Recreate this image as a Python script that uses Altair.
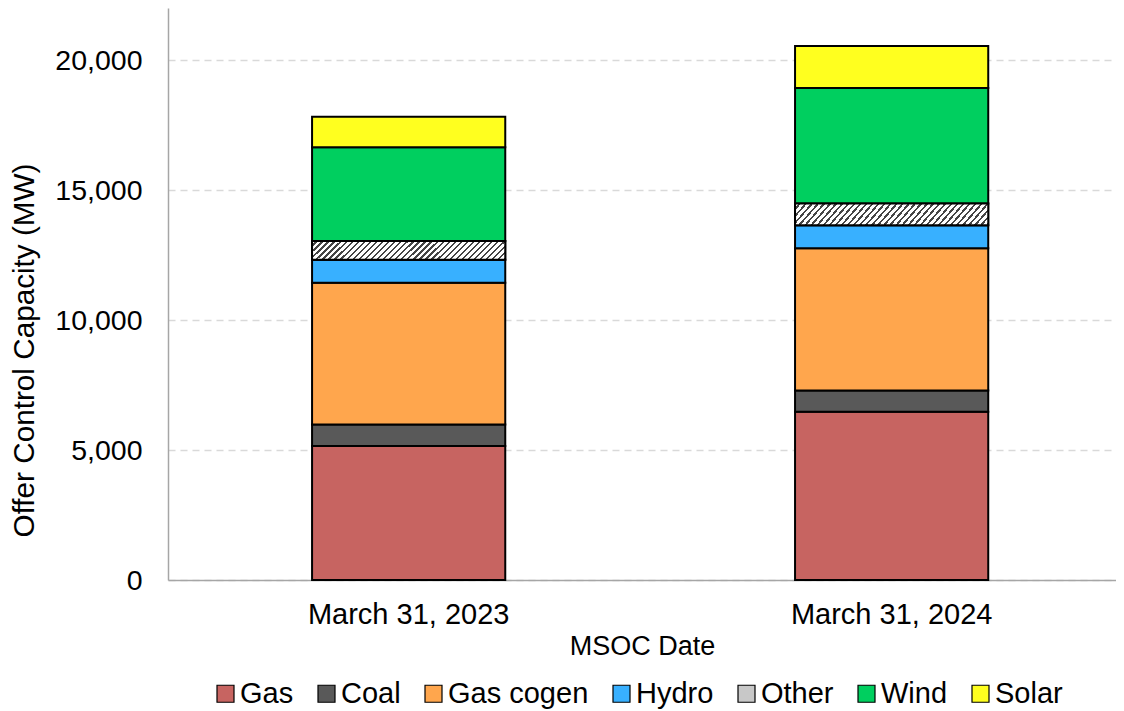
import altair as alt
import pandas as pd

dates = ["March 31, 2023", "March 31, 2024"]
categories = ["Gas", "Coal", "Gas cogen", "Hydro", "Other", "Wind", "Solar"]
values_2023 = [5150, 835, 5450, 885, 720, 3605, 1175]
values_2024 = [6470, 820, 5470, 885, 835, 4445, 1615]
colors = ["#C76461", "#595959", "#FFA64D", "#38B0FF", "#C8C8C8", "#00CF5F", "#FFFF1F"]

rows = []
for d, vals in zip(dates, [values_2023, values_2024]):
    for i, (c, v) in enumerate(zip(categories, vals)):
        rows.append({"date": d, "cat": c, "value": v, "order": i})
df = pd.DataFrame(rows)

# diagonal hatch as a hard-stop linear gradient (styling only)
W, H = 193.0, 19.0
k = (W + H) / (W * W + H * H)
N = 35
stops = []
for i in range(N):
    stops.append({"offset": i / N, "color": "#ffffff"})
    stops.append({"offset": (i + 0.62) / N, "color": "#ffffff"})
    stops.append({"offset": (i + 0.62) / N, "color": "#454545"})
    stops.append({"offset": (i + 1) / N, "color": "#454545"})
hatch = {"gradient": "linear", "x1": 0, "y1": 0, "x2": k * W, "y2": k * H, "stops": stops}

FONT = "Liberation Sans"

base = alt.Chart(df).transform_stack(
    stack="value", groupby=["date"], as_=["y0", "y1"], sort=[alt.SortField("order", "ascending")]
)

xenc = alt.X(
    "date:N",
    sort=dates,
    title="MSOC Date",
    scale=alt.Scale(paddingInner=0.6, paddingOuter=0.2814, align=0.53),
    axis=alt.Axis(labelAngle=0, ticks=False, grid=False, labelPadding=20, titlePadding=4,
                  labelLimit=0, labelFontSize=29, titleFontSize=27,
                  domainColor="#a6a6a6", domainWidth=1.5),
)
yenc = alt.Y(
    "y0:Q",
    title="Offer Control Capacity (MW)",
    scale=alt.Scale(domain=[0, 22000], nice=False),
    axis=alt.Axis(values=[0, 5000, 10000, 15000, 20000], format=",.0f", ticks=False, labelPadding=26,
                  labelFontSize=28.5, titleFontSize=29.7,
                  titleX=-143.5, titleY=342, titleBaseline="middle", titleAlign="center", titleAngle=-90,
                  grid=True, gridColor="#d9d9d9", gridDash=[7, 5], gridWidth=1.5,
                  domainColor="#a6a6a6", domainWidth=1.5),
)

bars = base.mark_bar(stroke="black", strokeWidth=2).encode(
    x=xenc,
    y=yenc,
    y2="y1:Q",
    color=alt.Color(
        "cat:N",
        scale=alt.Scale(domain=categories, range=colors),
        legend=alt.Legend(
            title=None, orient="none", direction="horizontal", legendX=43, legendY=671,
            symbolType="square", symbolSize=289, symbolStrokeColor="black", symbolStrokeWidth=1.2,
            labelFontSize=29, labelFont=FONT, labelColor="black", columnPadding=18,
            labelOffset=0, columns=7,
        ),
    ),
)

other = base.transform_filter(alt.datum.cat == "Other").mark_bar(
    fill=hatch, stroke="black", strokeWidth=2
).encode(x=alt.X("date:N", sort=dates), y="y0:Q", y2="y1:Q")

chart = alt.layer(bars, other).properties(
    width=948, height=572,
    autosize=alt.AutoSizeParams(type="none"),
    padding={"left": 160, "top": 0, "right": 0, "bottom": 131},
).configure_axis(
    labelFont=FONT, titleFont=FONT,
    labelColor="black", titleColor="black", titleFontWeight="normal",
).configure_view(stroke=None)

chart.save("out.html", embed_options={"renderer": "svg", "actions": False})
